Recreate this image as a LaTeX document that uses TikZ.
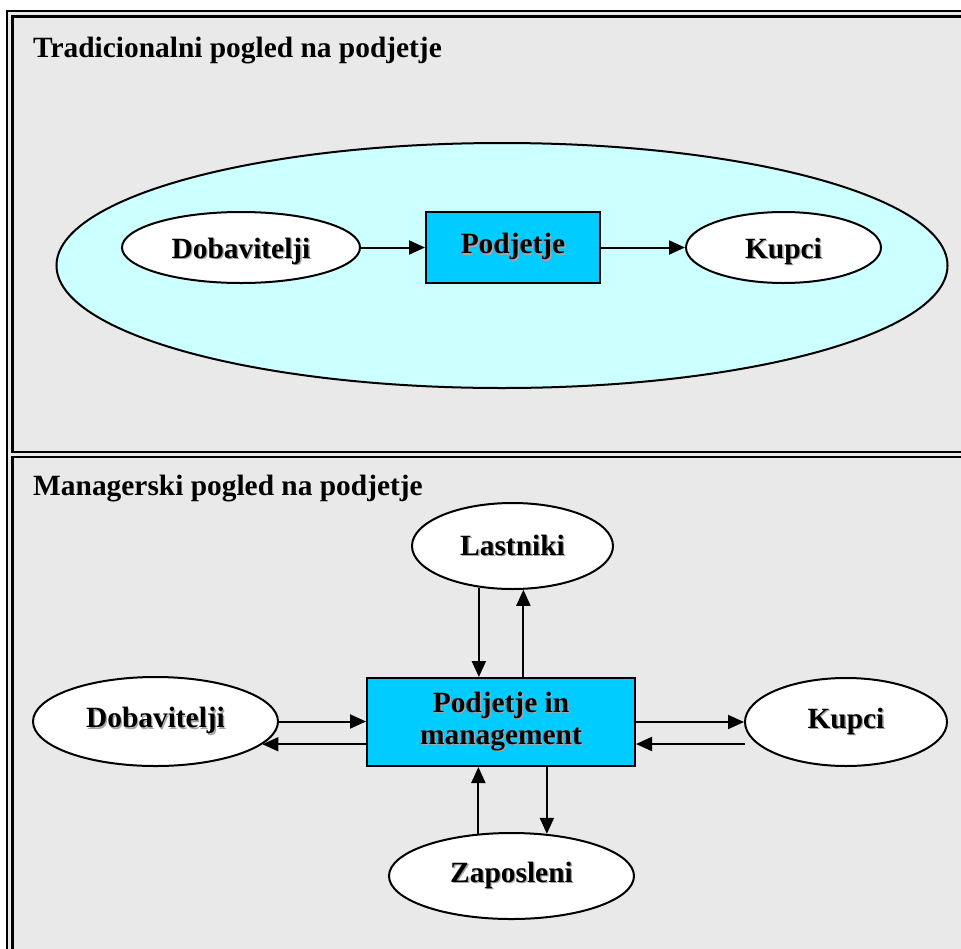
\documentclass[tikz,border=0pt]{standalone}
\usepackage{fontspec}
\setmainfont{Liberation Serif}
\usetikzlibrary{shapes.geometric,arrows.meta}
\definecolor{cellgray}{RGB}{233,233,233}
\definecolor{lightcyan}{RGB}{204,255,255}
\definecolor{boxblue}{RGB}{0,204,255}
\newcommand{\shtext}[1]{\makebox[0pt][l]{\hspace{1.3pt}\raisebox{-1.3pt}{\textcolor{black!35}{#1}}}#1}

\begin{document}
\begin{tikzpicture}[x=1pt,y=-1pt]
        \tikzset{ovals/.style={draw, ellipse, fill=white, line width=2pt, inner sep=0pt, font=\fontsize{29.4}{32}\selectfont\bfseries},
                 boxes/.style={draw, rectangle, fill=boxblue, line width=2pt, inner sep=0pt, align=center, font=\fontsize{29.4}{32}\selectfont\bfseries},
                 titles/.style={anchor=base west, inner sep=0pt, font=\fontsize{29.4}{32}\selectfont\bfseries},
                 arr/.style={line width=2pt, -{Triangle[length=16pt,width=14pt]}},
                 frame/.style={line width=2.2pt}}
        \clip (0,0) rectangle (961,948);
        \fill [cellgray] (7,11) rectangle (1000,1000);
        \draw [frame] (7,11) rectangle (1000,1000);
        \draw [frame] (12.5,16.5) rectangle (995,452);
        \draw [frame] (12.5,457) rectangle (995,995);
        \node [titles] (t1) at (33,57)  {Tradicionalni pogled na podjetje};
        \node [titles] (t2) at (33,495) {Managerski pogled na podjetje};
        \node [draw, ellipse, fill=lightcyan, line width=2pt, minimum width=891pt, minimum height=245pt] (e1) at (502,265.5) {};
        \node [ovals, minimum width=238pt, minimum height=71pt, text height=27pt, text depth=6pt] (d1) at (241,247.5) {\shtext{Dobavitelji}};
        \node [boxes, minimum width=174pt, minimum height=71pt] (p1) at (513,247.5) {\shtext{Podjetje}};
        \node [ovals, minimum width=195pt, minimum height=71pt, text height=27pt, text depth=6pt] (k1) at (783.5,247.5) {\shtext{Kupci}};
        \node [ovals, minimum width=201pt, minimum height=86pt] (l2) at (512.5,546)   {\shtext{Lastniki}};
        \node [boxes, minimum width=268pt, minimum height=88pt] (p2) at (501,722)     {\shtext{Podjetje in}\\\shtext{management}};
        \node [ovals, minimum width=245pt, minimum height=89pt] (d2) at (155.5,721.5) {\shtext{Dobavitelji}};
        \node [ovals, minimum width=202pt, minimum height=88pt] (k2) at (846,722)     {\shtext{Kupci}};
        \node [ovals, minimum width=245pt, minimum height=86pt] (z2) at (511.5,876)   {\shtext{Zaposleni}};
        \draw [arr] (d1) -- (p1);
        \draw [arr] (p1) -- (k1);
        \draw [arr] (l2.-129.6) -- (l2.-129.6 |- p2.north);
        \draw [arr] (l2.-76.2 |- p2.north) -- (l2.-76.2);
        \draw [arr] (d2.east) -- (d2.east -| p2.west);
        \draw [arr] (d2.-12 -| p2.west) -- (d2.-12);
        \draw [arr] (p2.east) -- (p2.east -| k2.west);
        \draw [arr] ([xshift=1pt,yshift=-22pt]k2.west) -- ([yshift=-22pt]k2.west -| p2.east);
        \draw [arr] (z2.128.1) -- (z2.128.1 |- p2.south);
        \draw [arr] (z2.50.1 |- p2.south) -- (z2.50.1);
    \end{tikzpicture}
\end{document}
